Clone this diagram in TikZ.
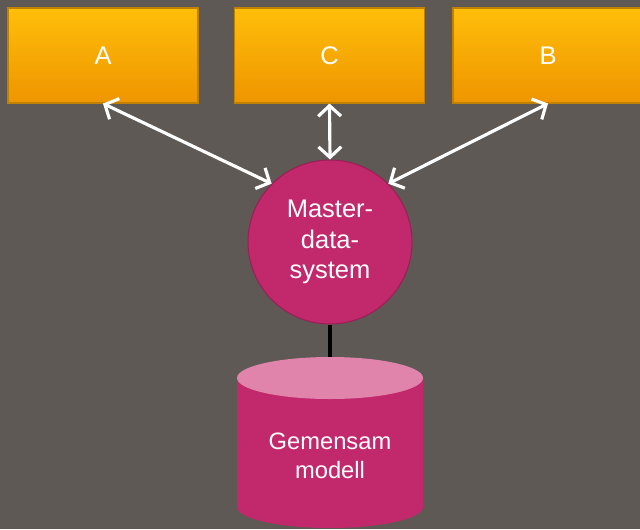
\documentclass[tikz,border=0pt]{standalone}
\usepackage{fontspec}
\setmainfont{Liberation Sans}
\usetikzlibrary{arrows.meta}
\definecolor{bg}{HTML}{5E5954}
\definecolor{boxtop}{HTML}{FFBE0A}
\definecolor{boxbot}{HTML}{EE9500}
\definecolor{boxedge}{HTML}{C08000}
\definecolor{mdsfill}{HTML}{C2286C}
\definecolor{mdsedge}{HTML}{9C1E56}
\definecolor{cylbody}{HTML}{C2286C}
\definecolor{cyltop}{HTML}{E084AC}
\begin{document}
\begin{tikzpicture}[x=0.02cm,y=-0.02cm,
    sysbox/.style={rectangle,draw=boxedge,line width=.6pt,top color=boxtop,bottom color=boxbot,
        minimum width=3.8cm,minimum height=1.9cm,text=white,font=\fontsize{14.5}{18}\selectfont},
    link/.style={{Straight Barb[length=6pt,width=13pt]}-{Straight Barb[length=6pt,width=13pt]},white,line width=1.8pt}]
    \fill[bg] (0,0) rectangle (640,529);
    \useasboundingbox (0,0) rectangle (640,529);

    \node[sysbox] (A) at (103,55.5) {A};
    \node[sysbox] (C) at (329.5,55.5) {C};
    \node[sysbox] (B) at (548,55.5) {B};

    \node[circle,draw=mdsedge,line width=.6pt,fill=mdsfill,minimum size=3.28cm,inner sep=0pt,
        text=white,align=center,font=\fontsize{14.5}{17.5}\selectfont] (M) at (330,242) {Master-\\data-\\system};

    % databas
    \fill[cylbody] (237,378) rectangle (423,507);
    \fill[cylbody] (330,507) ellipse [x radius=93,y radius=21];
    \fill[cyltop] (330,378) ellipse [x radius=93,y radius=21];
    \coordinate (dbtop) at (330,357);
    \node[text=white,align=center,font=\fontsize{13.5}{16.5}\selectfont] (db) at (330,456) {Gemensam\\modell};

    \draw[line width=2.2pt] (M.south) -- (dbtop);
    \draw[link] (A.south) -- (M.135);
    \draw[link] (C.south) -- (M.north);
    \draw[link] (B.south) -- (M.45);
\end{tikzpicture}
\end{document}
